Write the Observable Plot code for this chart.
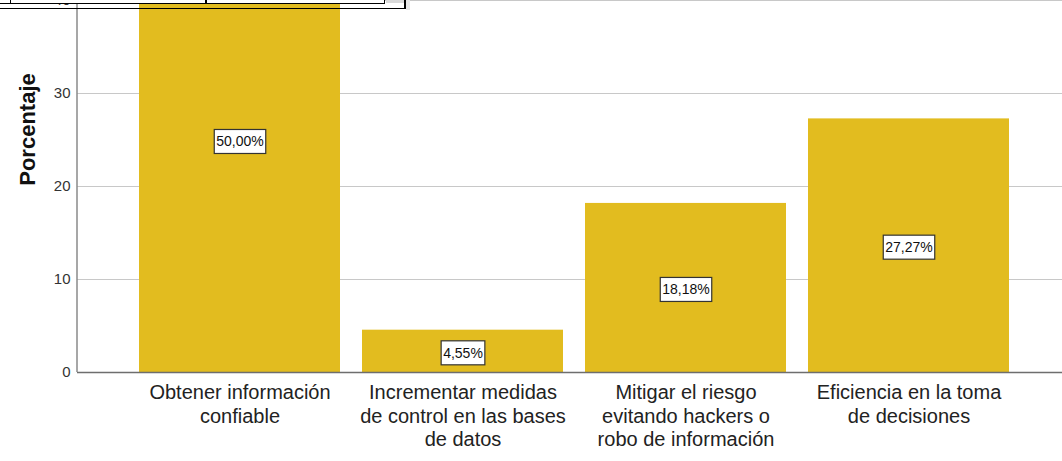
<!DOCTYPE html>
<html>
<head>
<meta charset="utf-8">
<script src="https://cdn.jsdelivr.net/npm/d3@7"></script>
<script src="https://cdn.jsdelivr.net/npm/@observablehq/plot@0.6"></script>
<style>
  html, body { margin: 0; padding: 0; background: #fff; }
  #wrap { position: relative; width: 1062px; height: 461px; overflow: hidden; background: #fff; }
  #chart { position: absolute; left: 0; top: -100px; }
  .ov { position: absolute; box-sizing: border-box; }
</style>
</head>
<body>
<div id="wrap">
  <div id="chart"></div>
  <!-- cropped table fragment at the top -->
  <div class="ov" style="left:-2px;top:-10px;width:387px;height:14px;background:#fff;border-bottom:1.5px solid #000;border-right:1.5px solid #000;"></div>
  <div class="ov" style="left:10px;top:-10px;width:1px;height:13px;background:#000;"></div>
  <div class="ov" style="left:205px;top:-10px;width:1.5px;height:13px;background:#000;"></div>
  <div class="ov" style="left:386px;top:-10px;width:18px;height:13px;background:#d9d9d9;"></div>
  <div class="ov" style="left:-2px;top:-10px;width:408px;height:19px;border-bottom:1.5px solid #000;border-right:2px solid #000;"></div>
  <div class="ov" style="left:406px;top:-10px;width:4px;height:20px;background:#e6e6e6;"></div>
</div>
<script>
const categories = [
  "Obtener información\nconfiable",
  "Incrementar medidas\nde control en las bases\nde datos",
  "Mitigar el riesgo\nevitando hackers o\nrobo de información",
  "Eficiencia en la toma\nde decisiones"
];
const values = [50.00, 4.55, 18.18, 27.27];
const valueLabels = ["50,00%", "4,55%", "18,18%", "27,27%"];
const yTicks = [0, 10, 20, 30, 40, 50];
const yLabel = "Porcentaje";

const data = categories.map((c, i) => ({cat: c, value: values[i], label: valueLabels[i]}));

const plot = Plot.plot({
  width: 1062,
  height: 561,
  marginLeft: 77,
  marginRight: 0,
  marginTop: 7,
  marginBottom: 89,
  style: {fontFamily: "'Liberation Sans', Arial, sans-serif", background: "white", overflow: "hidden"},
  x: {type: "band", domain: categories, range: [127.25, 1020.75], paddingInner: 0.1, paddingOuter: 0.05, label: null},
  y: {domain: [0, 50], label: null},
  marks: [
    Plot.ruleY(yTicks.slice(1), {stroke: "#c8c8c8", strokeWidth: 1}),
    Plot.barY(data, {x: "cat", y: "value", fill: "#e2bc1f"}),
    Plot.ruleY([0], {stroke: "#6e6e6e", strokeWidth: 1.5}),
    Plot.axisY({ticks: yTicks, tickSize: 0, tickPadding: 7, fontSize: 15, color: "#333", label: null}),
    Plot.axisX({tickSize: 0, tickPadding: 10, fontSize: 20, lineHeight: 1.18, color: "#222", label: null}),
    Plot.text(data, {x: "cat", y: d => d.value / 2, text: "label", fontSize: 14, fill: "#101010", dy: 2}),
    Plot.text([yLabel], {frameAnchor: "left", rotate: -90, textAnchor: "middle", dx: -50, dy: -10.5, fontSize: 22, fontWeight: "bold", fill: "#111"})
  ]
});

document.getElementById("chart").appendChild(plot);

// y axis line
const svg = d3.select(plot);
const ys = plot.scale("y");
svg.append("line")
  .attr("x1", 77).attr("x2", 77)
  .attr("y1", ys.apply(0)).attr("y2", ys.apply(50))
  .attr("stroke", "#8a8a8a").attr("stroke-width", 1.5);

// white boxes behind the value labels
const labelTexts = [];
plot.querySelectorAll("text").forEach(t => {
  if (valueLabels.includes(t.textContent)) labelTexts.push(t);
});
labelTexts.forEach(t => {
  const b = t.getBBox();
  let px = b.x, py = b.y;
  const tr = t.getAttribute("transform");
  if (tr) {
    const m = /translate\(([-\d.]+)[ ,]+([-\d.]+)\)/.exec(tr);
    if (m) { px += +m[1]; py += +m[2]; }
  }
  const r = document.createElementNS("http://www.w3.org/2000/svg", "rect");
  r.setAttribute("x", b.x - 2);
  r.setAttribute("y", b.y - 4);
  r.setAttribute("width", b.width + 4);
  r.setAttribute("height", b.height + 8);
  r.setAttribute("fill", "#fff");
  r.setAttribute("stroke", "#333");
  r.setAttribute("stroke-width", 1.2);
  if (tr) r.setAttribute("transform", tr);
  t.parentNode.insertBefore(r, t);
});
</script>
</body>
</html>
